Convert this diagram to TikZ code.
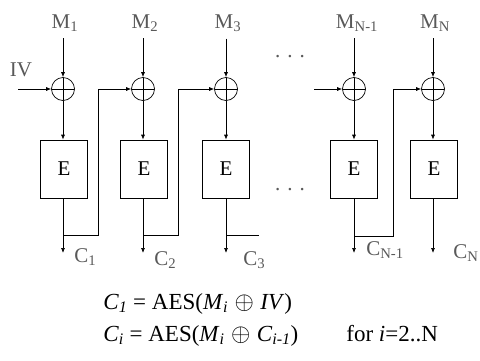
\documentclass[tikz,border=0pt]{standalone}
\usepackage{amsmath}
\usepackage{fontspec}
\setmainfont{Liberation Serif}
\usetikzlibrary{arrows.meta}
\definecolor{labelgray}{gray}{0.35}

\begin{document}
\begin{tikzpicture}[x=1pt, y=-1pt, >={Latex[length=5pt,width=4pt]}, line width=0.7pt,
  xor/.style={circle, draw, minimum size=23pt, inner sep=0pt,
    path picture={\draw (path picture bounding box.north) -- (path picture bounding box.south)
                        (path picture bounding box.west) -- (path picture bounding box.east);}},
  cipher/.style={rectangle, draw, minimum width=47pt, minimum height=58pt,
    font=\fontsize{21}{24}\selectfont},
  lbl/.style={text=labelgray, font=\fontsize{21}{24}\selectfont, inner sep=1pt},
  eqn/.style={anchor=base west, font=\fontsize{23}{27}\selectfont, inner sep=0pt}]

  \useasboundingbox (0,0) rectangle (480,360);

  % message labels
  \node[lbl, anchor=base] (M1) at (65,28)  {M\textsubscript{1}};
  \node[lbl, anchor=base] (M2) at (145,28) {M\textsubscript{2}};
  \node[lbl, anchor=base] (M3) at (228,28) {M\textsubscript{3}};
  \node[lbl, anchor=base] (M4) at (357,28) {M\textsubscript{N-1}};
  \node[lbl, anchor=base] (M5) at (435,28) {M\textsubscript{N}};
  \node[lbl, anchor=base] (IV) at (21,76)  {IV};

  % xor and cipher blocks
  \node[xor] (X1) at (63,89)  {};
  \node[xor] (X2) at (143,89) {};
  \node[xor] (X3) at (226,89) {};
  \node[xor] (X4) at (354,89) {};
  \node[xor] (X5) at (433,89) {};

  \node[cipher] (E1) at (64,169)  {E};
  \node[cipher] (E2) at (144,169) {E};
  \node[cipher] (E3) at (226,169) {E};
  \node[cipher] (E4) at (354,169) {E};
  \node[cipher] (E5) at (434,169) {E};

  \node[lbl] (DT) at (290,57)  {.\,\,.\,\,.};
  \node[lbl] (DB) at (290,190) {.\,\,.\,\,.};

  % ciphertext labels
  \node[lbl, anchor=base west] (C1) at (73,262)  {C\textsubscript{1}};
  \node[lbl, anchor=base west] (C2) at (153,265) {C\textsubscript{2}};
  \node[lbl, anchor=base west] (C3) at (242,265) {C\textsubscript{3}};
  \node[lbl, anchor=base west] (C4) at (365,255) {C\textsubscript{N-1}};
  \node[lbl, anchor=base west] (C5) at (452,258) {C\textsubscript{N}};

  \coordinate (IVin) at (18,89);
  \coordinate (O1) at (63,253);
  \coordinate (O2) at (143,253);
  \coordinate (O3) at (226,253);
  \coordinate (O4) at (354,253);
  \coordinate (O5) at (433,253);
  \coordinate (T1) at (98,235);
  \coordinate (T2) at (178,235);
  \coordinate (T3) at (259,235);
  \coordinate (T0) at (314,89);
  \coordinate (T4) at (393,236);

  \draw[->] (IVin) -- (X1);
  \draw[->, shorten <=6pt] (X1 |- M1.south) -- (X1);
  \draw[->, shorten <=6pt] (X2 |- M2.south) -- (X2);
  \draw[->, shorten <=6pt] (X3 |- M3.south) -- (X3);
  \draw[->, shorten <=6pt] (X4 |- M4.south) -- (X4);
  \draw[->, shorten <=6pt] (X5 |- M5.south) -- (X5);

  \draw[->] (X1) -- (X1 |- E1.north);
  \draw[->] (X2) -- (X2 |- E2.north);
  \draw[->] (X3) -- (X3 |- E3.north);
  \draw[->] (X4) -- (X4 |- E4.north);
  \draw[->] (X5) -- (X5 |- E5.north);

  \draw[->] (O1 |- E1.south) -- (O1);
  \draw[->] (O2 |- E2.south) -- (O2);
  \draw[->] (O3 |- E3.south) -- (O3);
  \draw[->] (O4 |- E4.south) -- (O4);
  \draw[->] (O5 |- E5.south) -- (O5);

  % chaining
  \draw[->] (O1 |- T1) -- (T1) |- (X2);
  \draw[->] (O2 |- T2) -- (T2) |- (X3);
  \draw     (O3 |- T3) -- (T3);
  \draw[->] (T0) -- (X4);
  \draw[->] (O4 |- T4) -- (T4) |- (X5);

  % equations
  \node[eqn] (EQ1) at (103,309) {\textit{C}\textsubscript{\textit{1}} = AES(\textit{M}\textsubscript{\textit{i}}\;$\oplus$\;\textit{IV})};
  \node[eqn] (EQ2) at (103,341) {\textit{C}\textsubscript{\textit{i}} = AES(\textit{M}\textsubscript{\textit{i}}\;$\oplus$\;\textit{C}\textsubscript{\textit{i-1}})};
  \node[eqn] (FOR) at (346,341) {for \textit{i}=2..N};

\end{tikzpicture}
\end{document}
